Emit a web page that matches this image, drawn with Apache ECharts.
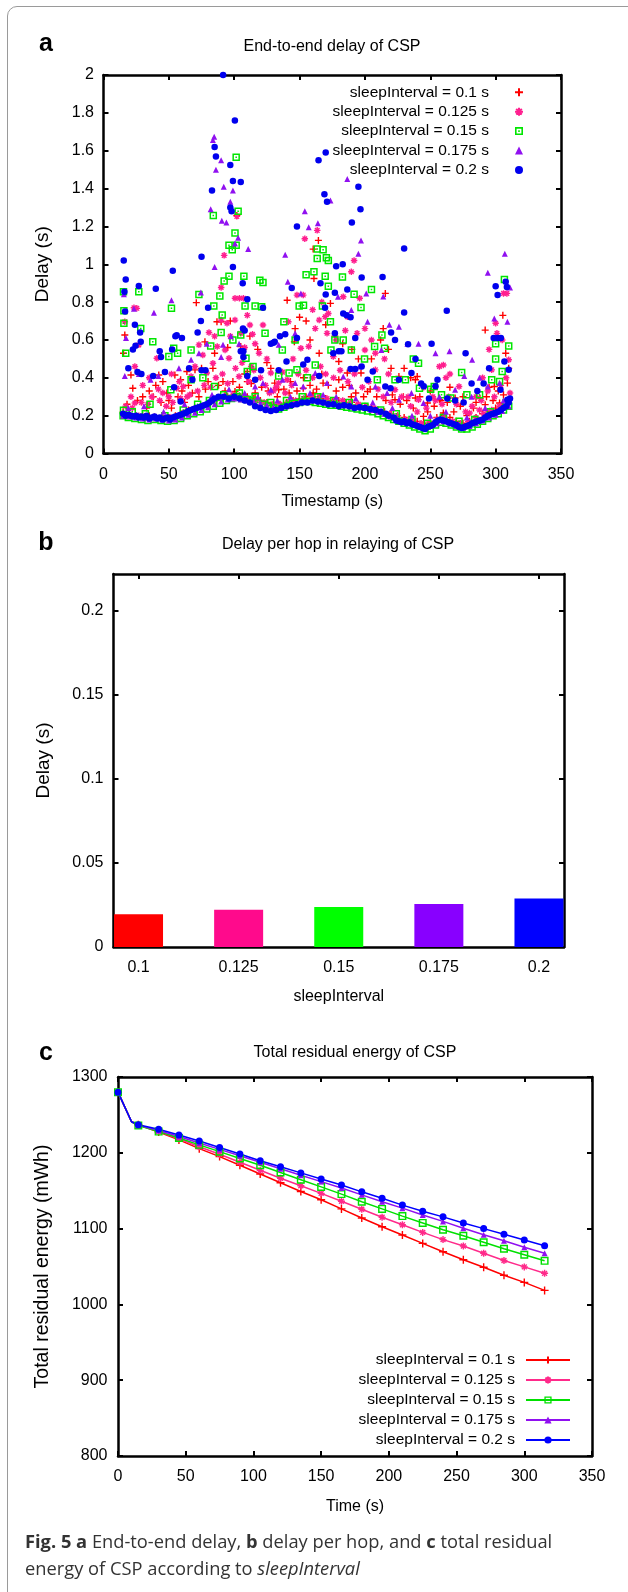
<!DOCTYPE html>
<html>
<head>
<meta charset="utf-8">
<script src="https://cdn.jsdelivr.net/npm/echarts@6.0.0/dist/echarts.min.js"></script>
<style>
html,body{margin:0;padding:0;background:#fff;overflow:hidden;}
#wrap{position:relative;width:628px;height:1592px;overflow:hidden;}
.pane{position:absolute;left:0;width:628px;overflow:hidden;}
#ca{top:0;height:520px;}
#cb{top:520px;height:490px;}
#cc{top:1010px;height:582px;}
#frame{position:absolute;left:7px;top:6px;width:700px;height:1700px;border:1.5px solid #9a9a9a;border-radius:10px;pointer-events:none;z-index:5;}
</style>
</head>
<body>
<div id="wrap">
<div id="ca" class="pane"></div>
<div id="cb" class="pane"></div>
<div id="cc" class="pane"></div>
<div id="frame"></div>
</div>
<script>
// ---------- DATA ----------
const seriesNames = ['sleepInterval = 0.1 s','sleepInterval = 0.125 s','sleepInterval = 0.15 s','sleepInterval = 0.175 s','sleepInterval = 0.2 s'];

// (a) end-to-end delay scatter: [timestamp s, delay s]
const delayRed = [
[15,.22],[20,.21],[25,.2],[30,.2],[35,.2],[40,.19],[45,.2],[50,.19],[55,.2],[60,.21],[65,.23],[70,.24],[75,.25],[80,.26],[85,.28],[90,.29],[95,.3],[100,.31],[105,.3],[110,.3],[115,.29],[120,.28],[125,.27],[130,.26],[135,.26],[140,.27],[145,.28],[150,.29],[155,.3],[160,.3],[165,.29],[170,.29],[175,.28],[180,.28],[185,.27],[190,.27],[195,.26],[200,.25],[205,.24],[210,.23],[215,.22],[220,.21],[225,.2],[230,.19],[235,.18],[240,.17],[245,.16],[250,.17],[255,.19],[260,.2],[265,.19],[270,.17],[275,.16],[280,.17],[285,.19],[290,.21],[295,.22],[300,.24],[305,.25],[310,.28],
[15.3,.53],[16.3,.626],[21,.415],[22.4,.345],[42.3,.415],[45.4,.38],[48.5,.32],[54.6,.415],[59,.39],[63.8,.433],[70,.442],[71,.797],[77.6,.59],[86.8,.696],[90,.696],[85,.53],[83.7,.45],[91.4,.38],[100.6,.328],[102,1.258],[105,.565],[110,.433],[110,.38],[116,.32],[131,.372],[134,.337],[140.5,.81],[142,.32],[146.6,.66],[146,.59],[152.8,.345],[160.4,1.08],[164.4,1.126],[161,.925],[160.4,.32],[165,.53],[168,.372],[173.6,.793],[180,.486],[180,.39],[186.5,.425],[189.6,.3],[197,.425],[202,.328],[215.6,.846],[214,.66],[220,.45],[223,.284],[226,.407],[229.4,.3],[238.6,.39],[240,.407],[238.6,.293],[244.8,.196],[247.8,.267],[257,.284],[260,.214],[269,.293],[283,.24],[292,.652],[292,.258],[299,.354],[303,.267],[304.6,.23],[305.5,.73],[307.7,.53],[309,.372],
[95,.56],[97,.7],[112,.62],[118,.55],[125,.48],[128,.45],[150,.72],[155,.7],[158,.6],[170,.68],[177,.62],[183,.58],[190,.55],[195,.5],[205,.5],[212,.6],[218,.55],[230,.45],[235,.4],[250,.33],[265,.35],[275,.3],[285,.27],[295,.35],[310,.45],[30,.3],[35,.33],[40,.36],[50,.28],[60,.33],[65,.36],[75,.45],[80,.38],
[18,.26],[26,.28],[33,.24],[38,.3],[44,.27],[52,.24],[57,.3],[62,.27],[68,.32],[73,.3],[78,.34],[88,.36],[93,.33],[99,.38],[104,.35],[108,.42],[113,.37],[121,.35],[126,.33],[133,.3],[138,.34],[143,.38],[148,.33],[153,.4],[158,.36],[163,.34],[167,.42],[172,.36],[178,.33],[183,.35],[188,.36],[193,.32],[199,.3],[204,.34],[209,.3],[216,.28],[221,.31],[227,.26],[232,.28],[237,.24],[242,.3],[248,.22],[253,.25],[258,.28],[263,.27],[268,.22],[273,.25],[278,.2],[288,.29],[293,.3],[298,.28],[302,.33],[306,.31]
];
const delayPink = [
[15,.21],[21,.2],[27,.2],[33,.19],[39,.195],[45,.19],[51,.19],[57,.2],[63,.22],[69,.235],[75,.25],[81,.27],[87,.29],[93,.3],[99,.31],[105,.3],[111,.29],[117,.28],[123,.27],[129,.26],[135,.26],[141,.27],[147,.28],[153,.29],[159,.3],[165,.3],[171,.29],[177,.28],[183,.28],[189,.27],[195,.26],[201,.25],[207,.24],[213,.22],[219,.21],[225,.2],[231,.18],[237,.17],[243,.16],[249,.16],[255,.18],[261,.19],[267,.17],[273,.16],[279,.17],[285,.19],[291,.21],[297,.23],[303,.25],[309,.27],
[90,.877],[92.3,1.047],[102,1.253],[163.5,1.179],[154,1.135],[189.6,.96],[191.7,1.02],[152.8,.837],[107,.82],[104,.82],[100.6,.82],[90,.705],[94.5,.688],[100.6,.705],[105,.635],[110,.73],[112,.679],[116,.58],[122,.679],[96,.503],[93,.547],[80.7,.639],[87,.565],[73,.574],[25.5,.767],[23.3,.77],[16.3,.696],[27,.574],[24,.46],[21,.3],[24,.267],[40.8,.503],[45.4,.32],[50,.3],[56,.345],[61,.354],[67,.407],[70,.46],[79,.425],[83.7,.477],[103.7,.407],[113,.46],[119,.53],[128,.425],[134,.372],[140.5,.39],[141.4,.696],[148,.837],[151,.556],[157,.565],[165,.705],[169.6,.723],[171,.635],[175.8,.512],[183.4,.828],[186.5,.723],[194,.635],[200,.547],[208,.53],[208,.442],[223,.337],[241,.284],[252,.3],[257,.46],[260,.468],[272,.354],[280,.214],[287.7,.23],[297,.442],[300,.688],[301,.635],[306,.846],[308.6,.846],[310,.495],[311,.32],
[160,.76],[162,.66],[167,.8],[172,.74],[178,.6],[185,.65],[196,.82],[200,.66],[205,.6],[215,.5],[218,.42],[233,.3],[245,.35],[262,.4],[265,.42],[285,.3],[290,.4],[295,.55],[305,.6],[30,.36],[35,.4],[42,.34],[52,.42],[58,.38],[64,.3],[76,.52],[85,.62],[97,.62],[108,.56],[114,.63],[125,.5],[130,.33],[145,.5],[137,.43],
[17,.25],[22,.24],[29,.27],[34,.26],[37,.3],[43,.28],[48,.25],[53,.27],[59,.29],[66,.31],[72,.33],[77,.36],[82,.35],[86,.4],[91,.42],[95,.37],[101,.45],[106,.48],[111,.38],[115,.44],[120,.4],[124,.36],[127,.32],[132,.35],[139,.32],[144,.36],[149,.42],[155,.44],[160,.4],[166,.46],[170,.42],[176,.4],[181,.44],[187,.38],[192,.42],[198,.35],[203,.38],[210,.34],[214,.3],[220,.27],[228,.3],[235,.25],[240,.22],[247,.24],[254,.28],[259,.26],[264,.3],[270,.26],[277,.22],[282,.25],[289,.28],[294,.33],[299,.3],[304,.36],[308,.4]
];
const delayGreen = [
[15,.2],[19,.19],[24,.185],[29,.18],[34,.175],[39,.18],[44,.175],[49,.17],[54,.175],[59,.185],[64,.2],[69,.21],[74,.22],[79,.235],[84,.25],[89,.265],[94,.28],[98,.29],[102,.3],[106,.29],[110,.285],[114,.28],[118,.27],[122,.26],[126,.25],[130,.24],[134,.235],[138,.245],[142,.255],[146,.265],[150,.27],[154,.275],[158,.275],[162,.27],[166,.265],[170,.26],[174,.255],[178,.255],[182,.25],[186,.245],[190,.24],[194,.235],[198,.23],[202,.225],[206,.22],[210,.21],[214,.2],[218,.19],[222,.18],[226,.17],[230,.16],[234,.15],[238,.14],[242,.13],[246,.12],[250,.13],[254,.15],[258,.165],[262,.16],[266,.15],[270,.14],[274,.13],[278,.13],[282,.14],[286,.155],[290,.17],[294,.185],[298,.2],[302,.21],[306,.23],[310,.25],
[101.5,1.565],[103,1.28],[84,1.258],[100.6,1.165],[96,1.1],[98.5,1.077],[101.5,1.1],[96,.937],[92.3,.912],[89,.832],[84.4,.779],[90.8,.732],[90,.64],[82,.568],[73,.84],[67,.547],[107.4,.937],[119.6,.916],[122,.903],[108.3,.779],[116,.779],[121,.775],[105,.626],[99,.6],[109,.503],[110,.433],[114.4,.46],[123.6,.635],[136.8,.547],[138,.696],[146.6,.6],[149.7,.779],[153,.784],[155,.945],[161,.96],[163.5,1.03],[163.5,1.08],[168,1.077],[170.5,1.035],[172,1.02],[169.6,.937],[172,.884],[167.5,.779],[173.6,.696],[177,.6],[183.4,.6],[182.8,.933],[191.7,.842],[197,.772],[205,.867],[213,.626],[189.6,.547],[199.7,.5],[207.4,.565],[215,.556],[231,.39],[237,.5],[241,.477],[250.3,.34],[274,.428],[278,.31],[300,.5],[300,.58],[305,.433],[306.7,.919],[310,.568],[303,.38],[15.3,.855],[15.6,.754],[15.6,.688],[17,.53],[15.3,.228],[27,.855],[28.5,.66],[37.7,.59],[35.6,.26],[52,.767],[50,.512],[53.7,.556],[56.7,.53],[51.5,.337],[67,.39],[76,.4],[85,.354],[134,.41],[142,.425],[148,.442],[156,.4],[162,.468],[174,.547],[209.5,.39],[223,.39],[241.7,.345],[253,.354],[258.6,.31],[265.6,.293],[287.7,.31],[297,.39],
[22,.22],[32,.21],[47,.2],[61,.23],[72,.26],[81,.28],[92,.31],[104,.32],[116,.3],[128,.27],[140,.28],[152,.3],[164,.3],[176,.28],[188,.27],[200,.25],[212,.23],[224,.21],[236,.18],[248,.16],[260,.19],[272,.17],[284,.18],[296,.22],[308,.27]
];
const delayPurple = [
[15,.2],[20,.195],[25,.19],[30,.185],[35,.18],[40,.185],[45,.18],[50,.175],[55,.18],[60,.19],[65,.205],[70,.215],[75,.23],[80,.245],[85,.26],[90,.275],[95,.285],[100,.29],[105,.285],[110,.28],[115,.275],[120,.265],[125,.255],[130,.245],[135,.24],[140,.25],[145,.26],[150,.27],[155,.275],[160,.28],[165,.275],[170,.27],[175,.265],[180,.26],[185,.255],[190,.25],[195,.245],[200,.24],[205,.23],[210,.22],[215,.21],[220,.195],[225,.185],[230,.17],[235,.16],[240,.15],[245,.14],[250,.145],[255,.16],[260,.17],[265,.16],[270,.145],[275,.135],[280,.145],[285,.16],[290,.175],[295,.19],[300,.205],[305,.225],[310,.25],
[84.7,1.674],[83.7,1.656],[86,1.5],[90,1.55],[82,1.29],[90.5,1.23],[94,1.22],[92,1.41],[97,1.33],[99,1.39],[85,.986],[100.6,1.11],[103,1.14],[110.7,1.08],[139,1.05],[141,.907],[154,1.28],[157,1.196],[164,1.217],[173.6,1.337],[186.5,1.45],[195,1.056],[197,1.126],[201,.846],[202,.696],[214,.83],[232.5,.58],[241,.58],[264.7,.54],[282,.495],[294,.955],[307,1.056],[299,.714],[309,.696],[311,.877],[15.6,.842],[17.2,.61],[16.3,.41],[23.3,.765],[38.6,.744],[52,.81],[74.5,.851],[90,.51],[134,.574],[146.6,.635],[151,.846],[179.4,.828],[189.6,.758],[218.7,.68],[226,.67],[212.6,.547],[254,.53],[287.7,.4],[276,.41],
[27,.42],[36,.39],[42,.41],[57.7,.45],[67,.495],[73,.53],[79,.58],[91.4,.574],[97.5,.62],[103.7,.58],[116,.354],[122,.372],[128,.337],[137,.39],[146.6,.372],[152.8,.354],[162,.425],[171,.372],[183.4,.407],[189.6,.354],[195.7,.46],[208,.354],[217,.32],[226,.284],[235.6,.32],[244.8,.267],[257,.3],[269,.337],[281.6,.3],[294,.354],[303,.372],
[19,.24],[31,.25],[46,.22],[62,.26],[83,.31],[96,.34],[108,.32],[118,.3],[133,.28],[143,.3],[158,.32],[168,.31],[178,.3],[193,.29],[206,.27],[221,.24],[236,.2],[250,.2],[262,.22],[278,.19],[292,.24],[306,.28]
];
const delayBlue = [
[15,.21],[17,.2],[19,.205],[21,.2],[23,.195],[25,.2],[27,.19],[29,.195],[31,.19],[33,.2],[35,.185],[37,.19],[39,.195],[41,.185],[43,.19],[45,.18],[47,.185],[49,.19],[51,.18],[53,.19],[55,.195],[57,.2],[59,.205],[61,.21],[63,.215],[65,.225],[67,.23],[69,.235],[71,.24],[73,.245],[75,.25],[77,.255],[79,.26],[81,.27],[83,.28],[85,.29],[88,.3],
[92,.3],[96,.29],[100,.3],[104,.29],[108,.28],[112,.27],[116,.25],[120,.24],[124,.23],[128,.225],[132,.23],[136,.24],[140,.25],[144,.255],[148,.26],[152,.27],[156,.27],[160,.28],[164,.275],[168,.27],[172,.26],[176,.26],[180,.25],[184,.255],[188,.25],[192,.24],[196,.245],[200,.24],[204,.235],[208,.23],[212,.22],[216,.21],[218,.2],[222,.19],[224,.175],[226,.17],[228,.165],[230,.17],[232,.16],[234,.165],[236,.155],[238,.15],[240,.145],[242,.14],[244,.135],[246,.13],[248,.14],[250,.145],[252,.15],[254,.165],[256,.175],[258,.18],[260,.175],[262,.17],[264,.165],[266,.16],[268,.155],[270,.15],[272,.14],[274,.135],[276,.14],[278,.145],[280,.15],[282,.16],[284,.165],[286,.17],[288,.175],[290,.18],[292,.19],[294,.2],[296,.205],[298,.21],[300,.215],[302,.22],[304,.23],[306,.24],[308,.25],[310,.27],[311,.29],
[15.5,1.02],[17,.92],[16,.855],[16.5,.75],[27,.885],[40,.87],[53,.965],[75,1.04],[83,1.39],[85,1.62],[86,1.57],[97,1.525],[99,1.44],[105,1.435],[100.5,1.76],[91.5,2.0],[97,1.3],[98,1.28],[99,.985],[106.5,.9],[110,.815],[148,1.2],[144,.875],[164.5,1.55],[170,1.59],[169,1.37],[171,1.33],[166,.9],[169.5,.77],[122,.77],
[24,.68],[28,.64],[28.5,.59],[19,.45],[22.5,.55],[24.5,.57],[26,.43],[29,.42],[38,.41],[44,.51],[43,.54],[47,.43],[55,.62],[56,.625],[60,.61],[52.5,.55],[54,.35],[59,.275],[65.5,.45],[68,.39],[72,.64],[74.5,.7],[80,.77],[75,.44],[78,.44],[107,.54],[108,.65],[130,.585],[135,.62],[139,.63],
[178,.99],[183,1.0],[177,.85],[170,.84],[195,1.41],[196.6,1.29],[190,1.22],[197.5,.93],[213.5,.933],[230,1.083],[230,.745],[262.6,.754],[251,.58],[220,.64],[223,.6],[233,.577],[186.5,.867],[183.4,.74],[186,.73],[189,.72],[180,.54],[182,.54],[177,.635],[192.6,.61],[175.8,.53],[192.6,.446],[189,.446],[197.5,.46],[202,.39],[206,.433],[215.6,.354],[219.6,.345],[226,.39],[235.6,.425],[238.7,.5],[243,.37],[245,.355],[249,.29],[254,.355],[255.5,.39],[263,.29],[269,.28],[275.5,.27],[277,.53],[281.6,.37],[286,.33],[290.8,.37],[295,.45],[298.5,.61],[301.5,.61],[304,.61],[300,.884],[301.5,.837],[307.7,.907],[308.6,.88],[306.7,.486],[303.7,.337],[310,.442],[309,.284],
[148,.61],[131,.59],[128,.58],[120.5,.44],[116,.39],[107,.51],[105,.54],[106.7,.66],[110,.41],[134,.44],[140,.486],[152.8,.47],[156,.495],[165,.41]
];

// (b) delay per hop (bars)
const hopCategories = ['0.1','0.125','0.15','0.175','0.2'];
const hopDelay = [0.0195, 0.0221, 0.0238, 0.0256, 0.0288];
const hopYTicks = [0, 0.05, 0.1, 0.15, 0.2];

// (c) total residual energy: time (s) and energy (mWh)
const energyTime = [0,10,15,30,45,60,75,90,105,120,135,150,165,180,195,210,225,240,255,270,285,300,315];
const energyRed    = [1280,1241,1237,1227.5,1217,1205.5,1195,1183.5,1172,1160.5,1149,1138,1126,1114,1102.5,1091.5,1080.5,1069.5,1059,1049,1038.5,1029,1018.5];
const energyPink   = [1280,1241,1236.5,1228.5,1218.5,1208,1198,1187.5,1177,1166.5,1156.5,1146.5,1136,1125.5,1115,1105,1095,1085.5,1077,1067.5,1058,1049.5,1041];
const energyGreen  = [1280,1241,1236,1228,1219.5,1210.5,1201.5,1192.5,1183.5,1174,1164.5,1155,1145.5,1135.5,1126,1116.5,1107.5,1098.5,1090.5,1082,1073.5,1065.5,1057.5];
const energyPurple = [1280,1241,1236.5,1229.5,1221.5,1213,1204.5,1196,1187.5,1179,1170.5,1162,1153.5,1144.5,1135.5,1127,1118,1109.5,1100.5,1092,1084,1075.5,1067.5];
const energyBlue   = [1280,1241,1237,1231,1223.5,1215.5,1207,1198.5,1189.5,1181.5,1173.5,1165.5,1157.5,1148.5,1140,1131,1123,1115.5,1107.5,1100,1092.5,1085,1077.5];

// ---------- STYLE ----------
const FONT = "'Liberation Sans', Arial, Helvetica, sans-serif";
const colorsA = ['#ff0000','#ff1f8f','#00e600','#9010f0','#0000ee'];
const colorsB = ['#ff0000','#ff0a8c','#00ff00','#8800ff','#0000ff'];
const colorsC = ['#ff0000','#ff2a8a','#00e000','#9010f0','#0000ff'];
const SYM_PLUS = 'path://M4,0V8M0,4H8';
const SYM_STAR = 'path://M4,0V8M0,4H8M1.2,1.2L6.8,6.8M6.8,1.2L1.2,6.8';
const SYM_SQDOT = 'path://M0,0H10V10H0ZM2,2V8H8V2ZM4,4H6V6H4Z';
const SYM_SQ = 'path://M0,0H10V10H0ZM1.8,1.8V8.2H8.2V1.8Z';

const numFmt = (v)=>String(+(+v).toFixed(6));

function frameAxis(pos, extra){
  return Object.assign({
    position: pos, type:'value',
    axisLine:{show:true, onZero:false, lineStyle:{color:'#000', width:2.5}},
    axisTick:{show:true, inside:true, length:5, lineStyle:{color:'#000', width:2}},
    axisLabel:{show:false}, splitLine:{show:false}, axisPointer:{show:false}
  }, extra);
}
const tickLabel = (margin, extra)=>Object.assign({show:true, color:'#000', fontFamily:FONT, fontSize:16, margin:margin, formatter:numFmt}, extra||{});
const labelTitle = (txt, x, y)=>({text:txt, left:x, top:y, padding:0, textAlign:'center', textVerticalAlign:'middle', textStyle:{fontFamily:FONT, fontWeight:'bold', fontSize:25, color:'#000'}});
const mainTitle = (txt, x, y)=>({text:txt, left:x, top:y, padding:0, textAlign:'center', textVerticalAlign:'middle', textStyle:{fontFamily:FONT, fontWeight:'normal', fontSize:16, color:'#000'}});

// ---------- (a) ----------
const scatterDefs = [
  {data:delayRed, symbol:SYM_PLUS, size:7, stroke:true},
  {data:delayPink, symbol:SYM_STAR, size:6.5, stroke:true},
  {data:delayGreen, symbol:SYM_SQDOT, size:7.5, stroke:false},
  {data:delayPurple, symbol:'triangle', size:6, stroke:false},
  {data:delayBlue, symbol:'circle', size:6.5, stroke:false}
];
const chartA = echarts.init(document.getElementById('ca'));
chartA.setOption({
  animation:false, backgroundColor:'transparent',
  title:[labelTitle('a',46,44), mainTitle('End-to-end delay of CSP',332,46.5)],
  legend:{data:seriesNames, orient:'vertical', right:104, top:82.6, align:'right', itemWidth:8, itemHeight:8, itemGap:0,
     selectedMode:false, padding:0, textStyle:{fontFamily:FONT, fontSize:15.5, lineHeight:19.4, color:'#000', padding:[0,21,0,0]}},
  grid:{left:103.5, right:67, top:75, bottom:520-453.5},
  xAxis:[
    frameAxis('bottom',{min:0, max:350, interval:50, axisLabel:tickLabel(13.5),
      name:'Timestamp (s)', nameLocation:'middle', nameGap:40, nameTextStyle:{fontFamily:FONT, fontSize:16, color:'#000'}}),
    frameAxis('top',{min:0, max:350, interval:50})
  ],
  yAxis:[
    frameAxis('left',{min:0, max:2, interval:0.2, axisLabel:tickLabel(9.5),
      name:'Delay (s)', nameLocation:'middle', nameGap:51, nameRotate:90, nameTextStyle:{fontFamily:FONT, fontSize:19, color:'#000'}}),
    frameAxis('right',{min:0, max:2, interval:0.2})
  ],
  series: scatterDefs.map((d,i)=>({
    type:'scatter', name:seriesNames[i], xAxisIndex:0, yAxisIndex:0,
    data:d.data, symbol:d.symbol, symbolSize:d.size,
    silent:true, progressive:0, large:false, clip:true,
    emphasis:{disabled:true},
    itemStyle: d.stroke ? {color:colorsA[i], borderColor:colorsA[i], borderWidth:1.4, opacity:1}
                        : {color:colorsA[i], opacity:1}
  }))
});

// ---------- (b) ----------
const catIdx = hopCategories.map((c,i)=>i);
const chartB = echarts.init(document.getElementById('cb'));
chartB.setOption({
  animation:false, backgroundColor:'transparent',
  title:[labelTitle('b',46,23), mainTitle('Delay per hop in relaying of CSP',338,25)],
  grid:{left:113.5, right:64, top:54, bottom:490-431.5},
  xAxis:[
    frameAxis('bottom',{min:-0.25, max:4.25,
      axisLabel:tickLabel(13, {customValues:catIdx, formatter:(v)=>hopCategories[Math.round(v)]}),
      axisTick:{show:true, inside:true, length:5, customValues:catIdx, lineStyle:{color:'#000', width:2}},
      name:'sleepInterval', nameLocation:'middle', nameGap:42, nameTextStyle:{fontFamily:FONT, fontSize:16, color:'#000'}}),
    frameAxis('top',{min:-0.25, max:4.25,
      axisTick:{show:true, inside:true, length:5, customValues:catIdx, lineStyle:{color:'#000', width:2}}})
  ],
  yAxis:[
    frameAxis('left',{min:0, max:0.222,
      axisLabel:tickLabel(10, {customValues:hopYTicks}),
      axisTick:{show:true, inside:true, length:5, customValues:hopYTicks, lineStyle:{color:'#000', width:2}},
      name:'Delay (s)', nameLocation:'middle', nameGap:60, nameRotate:90, nameTextStyle:{fontFamily:FONT, fontSize:19, color:'#000'}}),
    frameAxis('right',{min:0, max:0.222,
      axisTick:{show:true, inside:true, length:5, customValues:hopYTicks, lineStyle:{color:'#000', width:2}}})
  ],
  series:[{
    type:'bar', xAxisIndex:0, yAxisIndex:0, barWidth:49, z:1, silent:true,
    data: hopDelay.map((v,i)=>({value:[i,v], itemStyle:{color:colorsB[i]}}))
  }]
});

// ---------- (c) ----------
const energyData = [energyRed, energyPink, energyGreen, energyPurple, energyBlue];
const lineSyms = [SYM_PLUS, SYM_STAR, SYM_SQ, 'triangle', 'circle'];
const lineSymSize = [8, 7, 8, 6, 7];
const lineStroke = [true, true, false, false, false];
const chartC = echarts.init(document.getElementById('cc'));
chartC.setOption({
  animation:false, backgroundColor:'transparent',
  title:[labelTitle('c',46,43), mainTitle('Total residual energy of CSP',355,43),
    {text:'{b|Fig. 5 a} End-to-end delay, {b|b} delay per hop, and {b|c} total residual\nenergy of CSP according to {i|sleepInterval}',
     left:25, top:519, padding:0, textAlign:'left', textVerticalAlign:'top',
     textStyle:{fontFamily:"'Open Sans', sans-serif", fontWeight:'normal', fontSize:18.3, lineHeight:27, color:'#333',
       rich:{b:{fontFamily:"'Open Sans', sans-serif", fontWeight:'bold', fontSize:18.3, lineHeight:27, color:'#333'},
             i:{fontFamily:"'Open Sans', sans-serif", fontStyle:'italic', fontSize:18.3, lineHeight:27, color:'#333'}}}}
  ],
  legend:{data:seriesNames, orient:'vertical', right:57, top:340, align:'right', itemWidth:44, itemHeight:9, itemGap:0,
     selectedMode:false, padding:0, textStyle:{fontFamily:FONT, fontSize:15.5, lineHeight:20, color:'#000', padding:[0,6,0,0]}},
  grid:{left:118, right:36, top:67, bottom:582-446},
  xAxis:[
    frameAxis('bottom',{min:0, max:350, interval:50, axisLabel:tickLabel(13),
      name:'Time (s)', nameLocation:'middle', nameGap:43, nameTextStyle:{fontFamily:FONT, fontSize:16, color:'#000'}}),
    frameAxis('top',{min:0, max:350, interval:50})
  ],
  yAxis:[
    frameAxis('left',{min:800, max:1300, interval:100, axisLabel:tickLabel(10.5),
      name:'Total residual energy (mWh)', nameLocation:'middle', nameGap:65, nameRotate:90, nameTextStyle:{fontFamily:FONT, fontSize:19.5, color:'#000'}}),
    frameAxis('right',{min:800, max:1300, interval:100})
  ],
  series: energyData.map((arr,i)=>({
    type:'line', name:seriesNames[i], xAxisIndex:0, yAxisIndex:0, silent:true,
    data: arr.map((v,k)=> energyTime[k]===10 ? {value:[energyTime[k], v], symbol:'none'} : [energyTime[k], v]),
    symbol: lineSyms[i], symbolSize: lineSymSize[i], showAllSymbol:true,
    lineStyle:{color:colorsC[i], width:1.5},
    itemStyle: lineStroke[i] ? {color:colorsC[i], borderColor:colorsC[i], borderWidth:1.4}
                             : {color:colorsC[i], borderColor:colorsC[i], borderWidth:0}
  }))
});
</script>
</body>
</html>
